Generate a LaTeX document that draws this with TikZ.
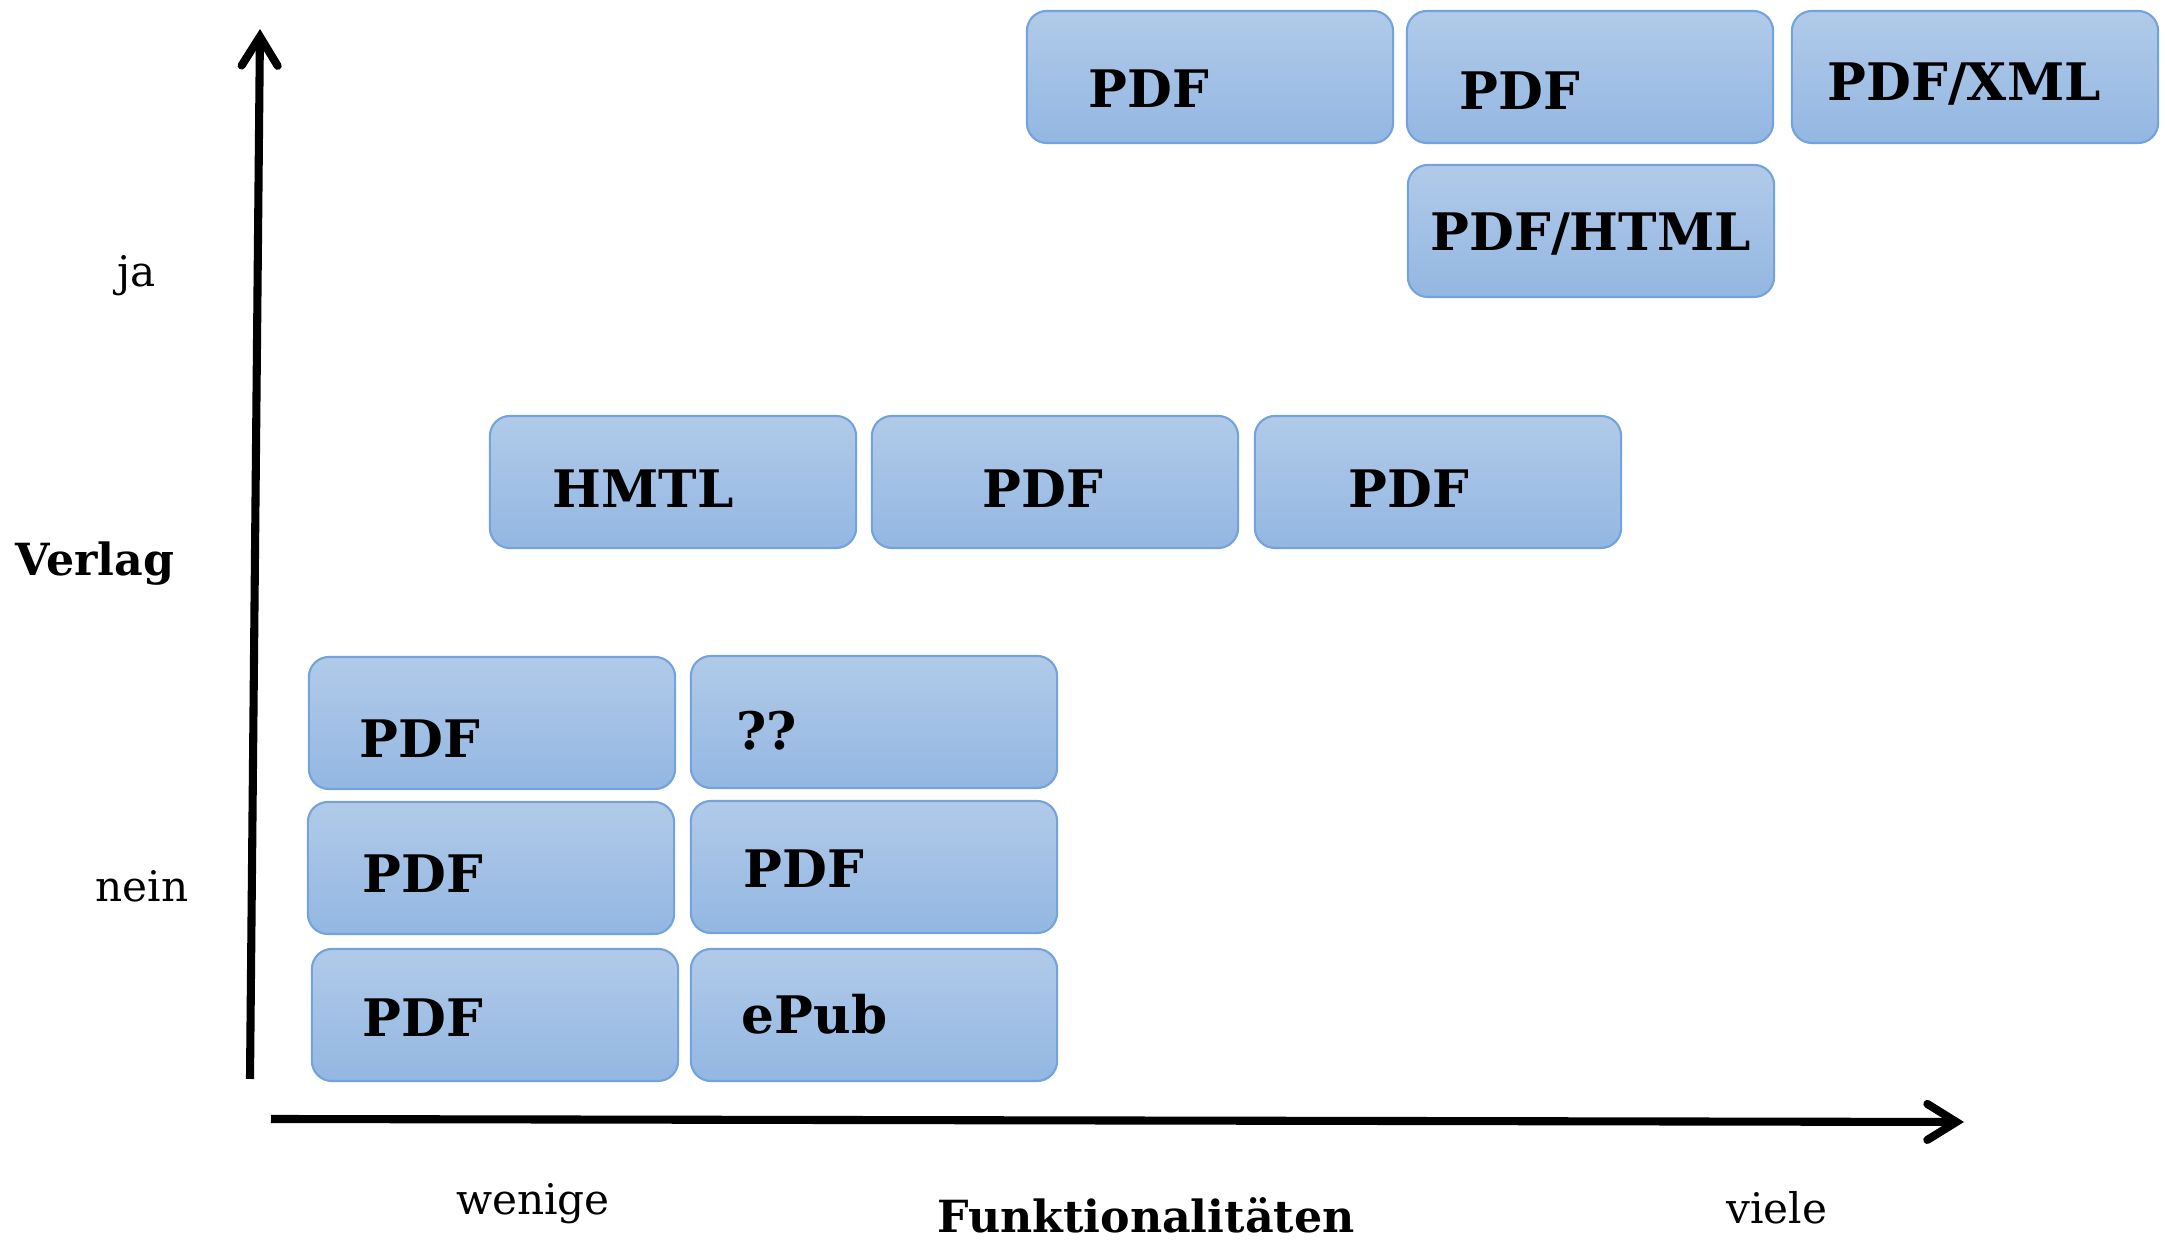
\documentclass[tikz,border=0pt]{standalone}
\usepackage{fontspec}
\setmainfont{DejaVu Serif}
\usetikzlibrary{arrows.meta}

\definecolor{boxtop}{RGB}{177,202,233}
\definecolor{boxbottom}{RGB}{147,183,226}
\definecolor{boxline}{RGB}{115,163,218}

\tikzset{
  formatbox/.style={draw=boxline, line width=0.6pt, rounded corners=0.2cm,
    top color=boxtop, bottom color=boxbottom,
    minimum width=3.66cm, minimum height=1.32cm, inner sep=0pt},
  formatname/.style={inner sep=0pt, anchor=base west,
    font=\fontsize{14.7}{17}\selectfont\bfseries},
  axisvalue/.style={inner sep=0pt, anchor=base, font=\fontsize{12}{14}\selectfont},
  axisname/.style={inner sep=0pt, anchor=base, font=\fontsize{12.6}{15}\selectfont\bfseries},
  axis/.style={line width=2.3pt,
    -{Straight Barb[length=2.9mm,width=3.6mm,line width=2.3pt,line cap=round,line join=miter]}}
}

\begin{document}
\begin{tikzpicture}[x=0.01cm,y=-0.01cm]
    \useasboundingbox (0,0) rectangle (2165,1240);

    % axes
    \coordinate (ybottom) at (250,1079);
    \coordinate (ytop) at (260,29);
    \coordinate (xleft) at (271,1119);
    \coordinate (xright) at (1964,1122);
    \draw [axis] (ybottom) -- (ytop);
    \draw [axis] (xleft) -- (xright);

    \node [axisvalue] (ja) at (137,287) {ja};
    \node [axisname] (verlag) at (95,576) {Verlag};
    \node [axisvalue] (nein) at (142,902) {nein};
    \node [axisvalue] (wenige) at (533,1215) {wenige};
    \node [axisname] (funktion) at (1146,1233) {Funktionalitäten};
    \node [axisvalue] (viele) at (1777,1224) {viele};

    % Verlag: ja
    \node [formatbox] (topa) at (1210,77) {};
    \node [formatbox] (topb) at (1590,77) {};
    \node [formatbox] (topc) at (1975,77) {};
    \node [formatbox] (topd) at (1591,231) {};
    \node [formatname] (topaname) at (1088,108) {PDF};
    \node [formatname] (topbname) at (1459,110) {PDF};
    \node [formatname] (topcname) at (1827,101) {PDF/XML};
    \node [formatname] (topdname) at (1430,251) {PDF/HTML};

    % mitte
    \node [formatbox] (mida) at (673,482) {};
    \node [formatbox] (midb) at (1055,482) {};
    \node [formatbox] (midc) at (1438,482) {};
    \node [formatname] (midaname) at (552,508) {HMTL};
    \node [formatname] (midbname) at (982,508) {PDF};
    \node [formatname] (midcname) at (1348,508) {PDF};

    % Verlag: nein
    \node [formatbox] (lowa) at (492,723) {};
    \node [formatbox] (lowb) at (874,722) {};
    \node [formatbox] (lowc) at (491,868) {};
    \node [formatbox] (lowd) at (874,867) {};
    \node [formatbox] (lowe) at (495,1015) {};
    \node [formatbox] (lowf) at (874,1015) {};
    \node [formatname] (lowaname) at (359,758) {PDF};
    \node [formatname] (lowbname) at (736,750) {??};
    \node [formatname] (lowcname) at (362,893) {PDF};
    \node [formatname] (lowdname) at (743,888) {PDF};
    \node [formatname] (lowename) at (362,1037) {PDF};
    \node [formatname] (lowfname) at (741,1034) {ePub};
\end{tikzpicture}
\end{document}
